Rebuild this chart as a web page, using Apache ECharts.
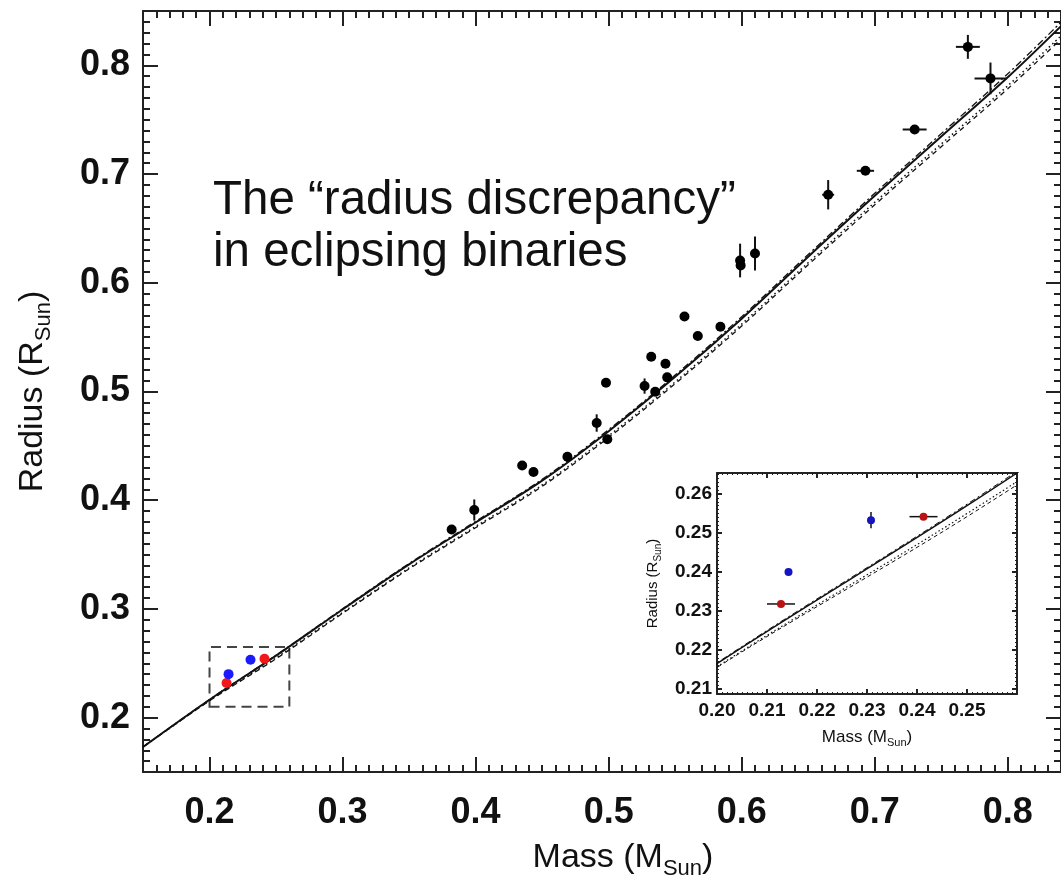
<!DOCTYPE html>
<html><head><meta charset="utf-8">
<script src="https://cdn.jsdelivr.net/npm/echarts@6/dist/echarts.min.js"></script>
<style>html,body{margin:0;padding:0;background:#fff}#c{width:1061px;height:879px}</style>
</head><body><div id="c"></div>
<script>
// ---- data ----
const blackMass      = [0.382, 0.399, 0.435, 0.4435, 0.469, 0.491, 0.499, 0.498, 0.527, 0.532, 0.535, 0.5427, 0.544, 0.557, 0.567, 0.584, 0.5988, 0.5992, 0.610, 0.665, 0.693, 0.730, 0.770, 0.787];
const blackRadius    = [0.373, 0.391, 0.432, 0.426, 0.440, 0.471, 0.456, 0.508, 0.505, 0.532, 0.4998, 0.5256, 0.513, 0.569, 0.551, 0.5596, 0.6205, 0.6160, 0.627, 0.681, 0.703, 0.741, 0.817, 0.788];
const blackMassErr   = [0, 0, 0, 0, 0, 0, 0, 0, 0, 0, 0, 0, 0, 0, 0, 0, 0.002, 0, 0.001, 0.0045, 0.0065, 0.009, 0.009, 0.012];
const blackRadiusErr = [0, 0.0097, 0, 0, 0, 0.008, 0.003, 0, 0.007, 0, 0, 0, 0.003, 0, 0, 0.002, 0.0155, 0, 0.0156, 0.0135, 0.001, 0.001, 0.011, 0.0146];

const redMass      = [0.2128, 0.2413];
const redRadius    = [0.2318, 0.2542];
const redMassErr   = [0.0028, 0.0028];
const redRadiusErr = [0.0004, 0.0008];

const blueMass      = [0.2143, 0.2308];
const blueRadius    = [0.2400, 0.2533];
const blueMassErr   = [0.0003, 0.0003];
const blueRadiusErr = [0.0005, 0.0021];

const modelMass    = [0.15, 0.20, 0.25, 0.30, 0.35, 0.40, 0.45, 0.50, 0.55, 0.60, 0.65, 0.70, 0.75, 0.80, 0.84];
const modelSolid   = [0.173, 0.2165, 0.2570, 0.2995, 0.3410, 0.3795, 0.4180, 0.4635, 0.5135, 0.5670, 0.6240, 0.6800, 0.7345, 0.7890, 0.8360];
const modelUpper   = [0.173, 0.2167, 0.2574, 0.3001, 0.3418, 0.3805, 0.4192, 0.4649, 0.5151, 0.5688, 0.6260, 0.6823, 0.7372, 0.7922, 0.8397];
const modelDotted  = [0.173, 0.2157, 0.2550, 0.2967, 0.3377, 0.3758, 0.4140, 0.4592, 0.5088, 0.5620, 0.6185, 0.6740, 0.7277, 0.7812, 0.8272];
const modelDashed  = [0.173, 0.2155, 0.2542, 0.2959, 0.3368, 0.3747, 0.4127, 0.4577, 0.5072, 0.5602, 0.6165, 0.6717, 0.7252, 0.7785, 0.8242];

const zoomBox = [0.20, 0.21, 0.26, 0.265]; // mass0, radius0, mass1, radius1

const xTickLabels = [0.2, 0.3, 0.4, 0.5, 0.6, 0.7, 0.8];
const yTickLabels = [0.2, 0.3, 0.4, 0.5, 0.6, 0.7, 0.8];
const insetXTickLabels = [0.20, 0.21, 0.22, 0.23, 0.24, 0.25];
const insetYTickLabels = [0.21, 0.22, 0.23, 0.24, 0.25, 0.26];

const annotation = 'The \u201cradius discrepancy\u201d\nin eclipsing binaries';

// ---- helpers ----
const zip = (...arrs) => arrs[0].map((_, i) => arrs.map(a => a[i]));
const insetYMinor = [];
for (let k = 209; k <= 265; k++) insetYMinor.push(k / 1000);

function errSeries(data, xi, yi, color, width) {
  return {
    type: 'custom', xAxisIndex: xi, yAxisIndex: yi, data: data, silent: true, clip: true, z: 3,
    encode: { x: 0, y: 1 },
    renderItem: function (params, api) {
      const x = api.value(0), y = api.value(1), ex = api.value(2), ey = api.value(3);
      const ch = [];
      if (ex > 0) {
        const a = api.coord([x - ex, y]), b = api.coord([x + ex, y]);
        ch.push({ type: 'line', shape: { x1: a[0], y1: a[1], x2: b[0], y2: b[1] }, style: { stroke: color, lineWidth: width } });
      }
      if (ey > 0) {
        const a = api.coord([x, y - ey]), b = api.coord([x, y + ey]);
        ch.push({ type: 'line', shape: { x1: a[0], y1: a[1], x2: b[0], y2: b[1] }, style: { stroke: color, lineWidth: width } });
      }
      return { type: 'group', children: ch };
    }
  };
}
function modelSeries(vals, xi, yi, type, width, extra) {
  return Object.assign({
    type: 'line', xAxisIndex: xi, yAxisIndex: yi, data: zip(modelMass, vals), showSymbol: false, symbol: 'none',
    smooth: 0.35, clip: true, silent: true, z: 2,
    lineStyle: { color: '#111', width: width, type: type }
  }, extra || {});
}

const FONT = '"Liberation Sans", Arial, Helvetica, sans-serif';
const AX = '#222';

const mainRect = { left: 143, top: 11, width: 918, height: 761 };
const insetRect = { left: 717, top: 473, width: 300, height: 221 };

function majorX(grid, pos, labels, min, max, opt) {
  return Object.assign({
    type: 'value', gridIndex: grid, position: pos, min: min, max: max,
    axisLine: { show: true, onZero: false, lineStyle: { color: AX, width: opt.lw } },
    axisTick: { show: true, inside: true, length: opt.major, customValues: labels, lineStyle: { color: AX, width: opt.lw } },
    axisLabel: pos === 'bottom' || pos === 'left' ? { show: true, customValues: labels, margin: opt.margin,
      formatter: v => v.toFixed(opt.dec), color: '#111', fontFamily: FONT, fontWeight: 'bold', fontSize: opt.fs } : { show: false },
    splitLine: { show: false }
  }, opt.extra || {});
}
function minorAx(grid, pos, min, max, interval, custom, len, lw) {
  const tick = { show: true, inside: true, length: len, lineStyle: { color: AX, width: lw } };
  if (custom) tick.customValues = custom;
  const o = { type: 'value', gridIndex: grid, position: pos, min: min, max: max,
    axisLine: { show: false }, axisTick: tick, axisLabel: { show: false }, splitLine: { show: false } };
  if (interval) o.interval = interval;
  return o;
}

const mainOpt = { lw: 2, major: 15, margin: 23, dec: 1, fs: 36 };
const insetOpt = { lw: 2, major: 5, margin: 7, dec: 2, fs: 19 };
const gridBase = { containLabel: false, outerBoundsMode: 'none' };

const option = {
  backgroundColor: '#fff',
  animation: false,
  grid: [
    Object.assign({ show: false }, gridBase, mainRect),
    Object.assign({ show: false }, gridBase, mainRect),
    Object.assign({ show: true, backgroundColor: '#fff', borderWidth: 0 }, gridBase, insetRect),
    Object.assign({ show: false }, gridBase, insetRect)
  ],
  xAxis: [
    majorX(0, 'bottom', xTickLabels, 0.15, 0.84, Object.assign({}, mainOpt, { extra: {
      name: 'Mass (M{s|Sun})', nameLocation: 'middle', nameGap: 61,
      nameTextStyle: { fontFamily: FONT, fontSize: 34, color: '#111', padding: [0, 0, 0, 42], lineHeight: 44,
        rich: { s: { fontFamily: FONT, fontSize: 22, color: '#111', verticalAlign: 'bottom', lineHeight: 22 } } } } })),
    majorX(0, 'top', xTickLabels, 0.15, 0.84, mainOpt),
    minorAx(1, 'bottom', 0.15, 0.84, 0.01, null, 7, 2),
    minorAx(1, 'top', 0.15, 0.84, 0.01, null, 7, 2),
    majorX(2, 'bottom', insetXTickLabels, 0.20, 0.26, Object.assign({}, insetOpt, { extra: {
      name: 'Mass (M{s|Sun})', nameLocation: 'middle', nameGap: 32,
      nameTextStyle: { fontFamily: FONT, fontSize: 17, color: '#111', lineHeight: 22,
        rich: { s: { fontFamily: FONT, fontSize: 11, color: '#111', verticalAlign: 'bottom', lineHeight: 11 } } } } })),
    majorX(2, 'top', insetXTickLabels, 0.20, 0.26, insetOpt),
    minorAx(3, 'bottom', 0.20, 0.26, 0.001, null, 2, 1),
    minorAx(3, 'top', 0.20, 0.26, 0.001, null, 2, 1)
  ],
  yAxis: [
    majorX(0, 'left', yTickLabels, 0.15, 0.85, Object.assign({}, mainOpt, { margin: 13, extra: {
      name: 'Radius (R{s|Sun})', nameLocation: 'middle', nameGap: 88,
      nameTextStyle: { fontFamily: FONT, fontSize: 34, color: '#111', lineHeight: 44,
        rich: { s: { fontFamily: FONT, fontSize: 22, color: '#111', verticalAlign: 'bottom', lineHeight: 22 } } } } })),
    majorX(0, 'right', yTickLabels, 0.15, 0.85, mainOpt),
    minorAx(1, 'left', 0.15, 0.85, 0.01, null, 7, 2),
    minorAx(1, 'right', 0.15, 0.85, 0.01, null, 7, 2),
    majorX(2, 'left', insetYTickLabels, 0.2087, 0.2654, Object.assign({}, insetOpt, { margin: 5, extra: {
      name: 'Radius (R{s|Sun})', nameLocation: 'middle', nameGap: 54,
      nameTextStyle: { fontFamily: FONT, fontSize: 15, color: '#111', lineHeight: 20,
        rich: { s: { fontFamily: FONT, fontSize: 10, color: '#111', verticalAlign: 'bottom', lineHeight: 10 } } } } })),
    majorX(2, 'right', insetYTickLabels, 0.2087, 0.2654, insetOpt),
    minorAx(3, 'left', 0.2087, 0.2654, null, insetYMinor, 2, 1),
    minorAx(3, 'right', 0.2087, 0.2654, null, insetYMinor, 2, 1)
  ],
  graphic: [{
    type: 'text', left: 213, top: 175, z: 10,
    style: { text: annotation, font: 'normal 47.5px ' + FONT, fill: '#111', lineHeight: 52 }
  }],
  series: [
    // main plot
    modelSeries(modelDashed, 0, 0, [5, 4], 1.3),
    modelSeries(modelDotted, 0, 0, [1.5, 3], 1.5),
    modelSeries(modelUpper, 0, 0, [7, 3, 2, 3], 1.3),
    modelSeries(modelSolid, 0, 0, 'solid', 2, {
      markArea: { silent: true,
        itemStyle: { color: 'rgba(0,0,0,0)', borderColor: '#444', borderWidth: 2, borderType: [10, 6] },
        data: [[{ coord: [zoomBox[0], zoomBox[1]] }, { coord: [zoomBox[2], zoomBox[3]] }]] }
    }),
    errSeries(zip(blackMass, blackRadius, blackMassErr, blackRadiusErr), 0, 0, '#111', 2),
    { type: 'scatter', xAxisIndex: 0, yAxisIndex: 0, data: zip(blackMass, blackRadius), symbolSize: 10, z: 4, silent: true,
      itemStyle: { color: '#000', opacity: 1 } },
    { type: 'scatter', xAxisIndex: 0, yAxisIndex: 0, data: zip(redMass, redRadius), symbolSize: 10, z: 4, silent: true,
      itemStyle: { color: '#f01818', opacity: 1 } },
    { type: 'scatter', xAxisIndex: 0, yAxisIndex: 0, data: zip(blueMass, blueRadius), symbolSize: 10, z: 4, silent: true,
      itemStyle: { color: '#1a1aff', opacity: 1 } },
    // inset
    modelSeries(modelDashed, 4, 4, [4, 3], 1, { z: 5 }),
    modelSeries(modelDotted, 4, 4, [1.5, 2.5], 1.2, { z: 5 }),
    modelSeries(modelUpper, 4, 4, [6, 3, 2, 3], 1, { z: 5 }),
    modelSeries(modelSolid, 4, 4, 'solid', 1.5, { z: 5 }),
    Object.assign(errSeries(zip(redMass, redRadius, redMassErr, redRadiusErr), 4, 4, '#111', 1.5), { z: 6 }),
    Object.assign(errSeries(zip(blueMass, blueRadius, blueMassErr, blueRadiusErr), 4, 4, '#111', 1.5), { z: 6 }),
    { type: 'scatter', xAxisIndex: 4, yAxisIndex: 4, data: zip(redMass, redRadius), symbolSize: 8, z: 7, silent: true,
      itemStyle: { color: '#b81414', opacity: 1 } },
    { type: 'scatter', xAxisIndex: 4, yAxisIndex: 4, data: zip(blueMass, blueRadius), symbolSize: 8, z: 7, silent: true,
      itemStyle: { color: '#1414c0', opacity: 1 } }
  ]
};

const chart = echarts.init(document.getElementById('c'), null, { renderer: 'canvas' });
chart.setOption(option);
</script>
</body></html>
